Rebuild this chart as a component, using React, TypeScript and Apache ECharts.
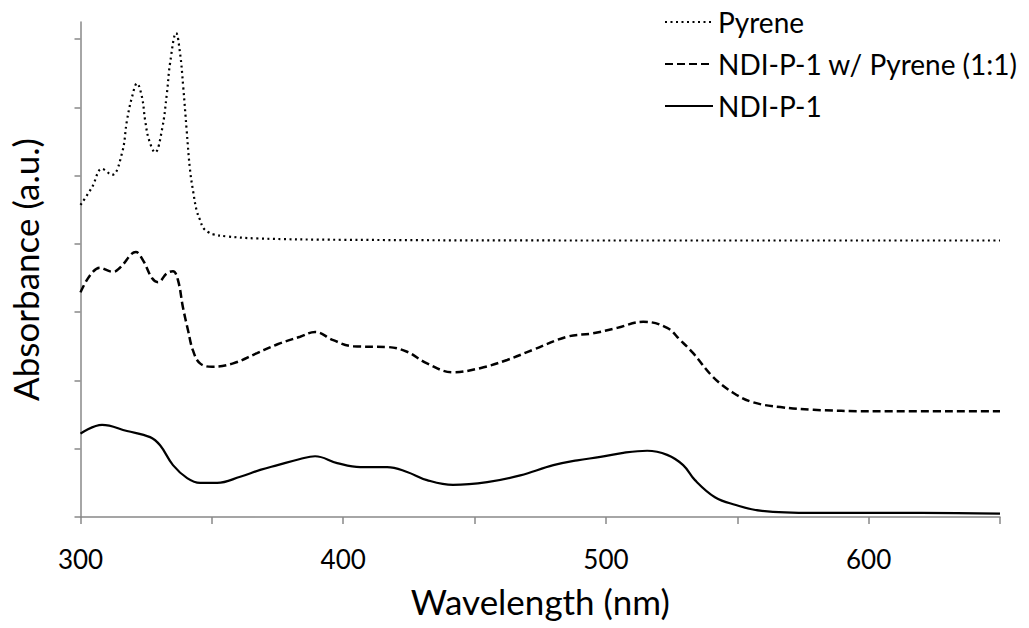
import React, { useEffect, useRef } from "react";
import * as echarts from "echarts";

// Wavelength (nm) and absorbance (a.u., offset traces)
const pyreneNm = [300, 304.4, 308.2, 312, 315.8, 317.7, 319.6, 321.5, 323.4, 324.6, 326.1, 328.4, 331, 332.9, 334.1, 336.4, 337.9, 339.1, 340.4, 341.7, 343, 344.2, 345.5, 346.8, 348.7, 350.6, 355.7, 367.1, 400, 500, 650];
const pyreneAbs = [4.57, 4.83, 5.1, 5.01, 5.33, 5.81, 6.15, 6.35, 6.15, 5.81, 5.52, 5.34, 5.67, 6.21, 6.65, 7.09, 6.79, 6.3, 5.67, 5.08, 4.74, 4.49, 4.35, 4.23, 4.17, 4.14, 4.11, 4.08, 4.06, 4.05, 4.05];

const mixNm = [300, 307.4, 312.4, 315, 321.1, 323.8, 327.2, 329.5, 332.9, 335.2, 337.1, 339, 340.9, 342.8, 345.5, 350.1, 358.1, 367.2, 375, 383.6, 389.3, 396.2, 403.8, 416.7, 424.3, 431.9, 441.8, 452.1, 462.4, 472.3, 485.2, 495.1, 504.3, 514.2, 523.3, 528.3, 533.2, 540.8, 548.4, 556, 566.4, 579, 600, 650];
const mixAbs = [3.29, 3.65, 3.59, 3.65, 3.88, 3.76, 3.5, 3.44, 3.57, 3.6, 3.47, 3.07, 2.74, 2.44, 2.25, 2.2, 2.25, 2.4, 2.53, 2.64, 2.71, 2.59, 2.5, 2.49, 2.42, 2.25, 2.12, 2.18, 2.3, 2.45, 2.64, 2.69, 2.77, 2.86, 2.77, 2.59, 2.4, 2.05, 1.82, 1.68, 1.61, 1.57, 1.55, 1.55];

const ndiNm = [300, 308.2, 317.7, 326.5, 330.3, 335.2, 340.6, 345.5, 352, 360.8, 368.4, 375, 383.6, 389.3, 397.7, 406.5, 416.7, 424.3, 431.9, 441.8, 454.8, 467.4, 480, 489.1, 497.9, 506.6, 515.7, 523.3, 529.4, 533.9, 541.5, 549.1, 559.4, 579, 620, 650];
const ndiAbs = [1.22, 1.35, 1.26, 1.17, 1.05, 0.76, 0.57, 0.5, 0.5, 0.59, 0.69, 0.76, 0.85, 0.89, 0.79, 0.73, 0.73, 0.66, 0.54, 0.47, 0.51, 0.61, 0.76, 0.83, 0.88, 0.94, 0.97, 0.91, 0.76, 0.54, 0.29, 0.18, 0.09, 0.06, 0.06, 0.05];

const seriesNames = ["Pyrene", "NDI-P-1 w/ Pyrene (1:1)", "NDI-P-1"];
const yTickValues = [0, 1, 2, 3, 4, 5, 6, 7];

const pairs = (xs: number[], ys: number[]) => xs.map((x, i) => [x, ys[i]]);

const FONT = "Lato, 'Open Sans', sans-serif";
const AXIS_COLOR = "#888888";

export default function App() {
  const ref = useRef<HTMLDivElement>(null);
  useEffect(() => {
    if (!ref.current) return;
    const chart = echarts.init(ref.current, undefined, { renderer: "svg" });
    chart.setOption({
      animation: false,
      backgroundColor: "#ffffff",
      textStyle: { fontFamily: FONT },
      grid: {
        left: 80.5,
        right: 29,
        top: 22,
        bottom: 111,
        containLabel: false,
        outerBoundsMode: "none",
      },
      legend: {
        orient: "vertical",
        left: 659,
        top: 2,
        itemWidth: 48,
        itemHeight: 10,
        itemGap: 12,
        data: seriesNames,
        itemStyle: { opacity: 0 },
        textStyle: { fontFamily: FONT, fontSize: 28, color: "#000", lineHeight: 30 },
      },
      xAxis: {
        type: "value",
        min: 300,
        max: 650,
        interval: 50,
        name: "Wavelength (nm)",
        nameLocation: "middle",
        nameGap: 66,
        nameTextStyle: { fontFamily: FONT, fontSize: 35, color: "#000" },
        axisLine: { show: true, onZero: false, lineStyle: { color: AXIS_COLOR, width: 1.5 } },
        axisTick: { show: true, inside: false, length: 7, lineStyle: { color: AXIS_COLOR, width: 1.5 } },
        axisLabel: {
          show: true,
          margin: 29,
          fontFamily: FONT,
          fontSize: 26,
          color: "#000",
          formatter: (v: number) => (v % 100 === 0 ? String(v) : ""),
        },
        splitLine: { show: false },
      },
      yAxis: {
        type: "value",
        min: 0,
        max: 7.25,
        name: "Absorbance (a.u.)",
        nameLocation: "middle",
        nameGap: 38,
        nameRotate: 90,
        nameTextStyle: { fontFamily: FONT, fontSize: 35, color: "#000" },
        axisLine: { show: true, lineStyle: { color: AXIS_COLOR, width: 1.5 } },
        axisTick: {
          show: true,
          inside: false,
          length: 6,
          customValues: yTickValues,
          lineStyle: { color: AXIS_COLOR, width: 1.5 },
        },
        axisLabel: { show: false },
        splitLine: { show: false },
      },
      series: [
        {
          name: seriesNames[0],
          type: "line",
          data: pairs(pyreneNm, pyreneAbs),
          showSymbol: false,
          symbol: "none",
          smooth: 0.4,
          lineStyle: { color: "#000", width: 2.2, type: [2, 3.5], cap: "butt" },
          itemStyle: { color: "#000" },
        },
        {
          name: seriesNames[1],
          type: "line",
          data: pairs(mixNm, mixAbs),
          showSymbol: false,
          symbol: "none",
          smooth: 0.4,
          lineStyle: { color: "#000", width: 2.5, type: [8, 4] },
          itemStyle: { color: "#000" },
        },
        {
          name: seriesNames[2],
          type: "line",
          data: pairs(ndiNm, ndiAbs),
          showSymbol: false,
          symbol: "none",
          smooth: 0.4,
          lineStyle: { color: "#000", width: 2.2, type: "solid" },
          itemStyle: { color: "#000" },
        },
      ],
    });
    return () => chart.dispose();
  }, []);
  return (
    <div
      ref={ref}
      style={{ position: "fixed", left: 0, top: 0, width: 1029, height: 628, background: "#fff" }}
    />
  );
}
